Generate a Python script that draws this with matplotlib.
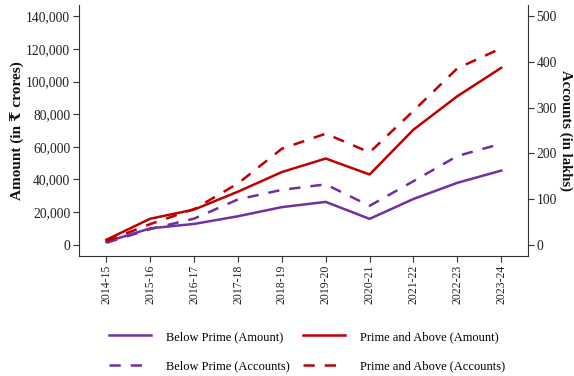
import matplotlib
matplotlib.use("Agg")
import matplotlib.pyplot as plt
from matplotlib.ticker import FuncFormatter

years = ["2014-15", "2015-16", "2016-17", "2017-18", "2018-19",
         "2019-20", "2020-21", "2021-22", "2022-23", "2023-24"]

# Amount in Rs crores
below_prime_amount = [1700, 10000, 12700, 17400, 23000, 26200, 15800, 28000, 37900, 45400]
prime_above_amount = [3000, 15900, 21500, 32500, 44500, 52800, 43000, 70500, 91000, 108400]

# Accounts in lakhs
below_prime_accounts = [4, 34, 57, 99, 120, 132, 85, 139, 194, 221]
prime_above_accounts = [8, 45, 78, 134, 210, 243, 202, 293, 386, 430]

PURPLE = "#7030A0"
RED = "#C00000"
FONT = ["Liberation Serif", "DejaVu Serif"]

plt.rcParams["font.family"] = FONT
plt.rcParams["font.size"] = 9

fig = plt.figure(figsize=(5.74, 3.76), dpi=100)
ax = fig.add_axes([0.138, 0.319, 0.781, 0.668])
ax2 = ax.twinx()

x = list(range(len(years)))
lw = 1.8
dash = (0, (4.5, 4))
l1, = ax.plot(x, below_prime_amount, color=PURPLE, lw=lw, label="Below Prime (Amount)")
l2, = ax.plot(x, prime_above_amount, color=RED, lw=lw, label="Prime and Above (Amount)")
l3, = ax2.plot(x, below_prime_accounts, color=PURPLE, lw=lw, ls=dash,
               label="Below Prime (Accounts)")
l4, = ax2.plot(x, prime_above_accounts, color=RED, lw=lw, ls=dash,
               label="Prime and Above (Accounts)")

ax.set_xlim(-0.62, 9.6)
ax.set_ylim(-7000, 147000)
ax2.set_ylim(-25, 525)
ax.set_yticks(range(0, 140001, 20000))
ax.yaxis.set_major_formatter(FuncFormatter(lambda v, p: f"{int(v):,}"))
ax2.set_yticks(range(0, 501, 100))
ax.set_xticks(x)
ax.set_xticklabels(years, rotation=90)

for a in (ax, ax2):
    a.spines["top"].set_visible(False)
    for s in ("left", "right", "bottom"):
        a.spines[s].set_color("#333333")
        a.spines[s].set_linewidth(0.8)
    a.tick_params(colors="#333333", labelcolor="#222222", labelsize=9.8, length=4,
                  width=0.8, pad=2.5)
ax.tick_params(axis="x", labelsize=8.5)
ax.spines["right"].set_visible(False)
ax2.spines["left"].set_visible(False)
ax2.spines["bottom"].set_visible(False)

ax.set_ylabel("Amount (in ₹ crores)", fontsize=11, fontweight="bold", color="#111111")
ax.yaxis.set_label_coords(-0.121, 0.5)
fig.text(0.997, 0.653, "Accounts (in lakhs)", fontsize=10.6, fontweight="bold",
         color="#111111", rotation=270, ha="right", va="center")

fig.legend(handles=[l1, l3, l2, l4], ncol=2, loc="center", bbox_to_anchor=(0.535, 0.065),
           frameon=False, fontsize=9.0, handlelength=3.4, columnspacing=1.0,
           handletextpad=1.2, labelspacing=1.4)

fig.savefig("out.png", dpi=100, facecolor="white")
